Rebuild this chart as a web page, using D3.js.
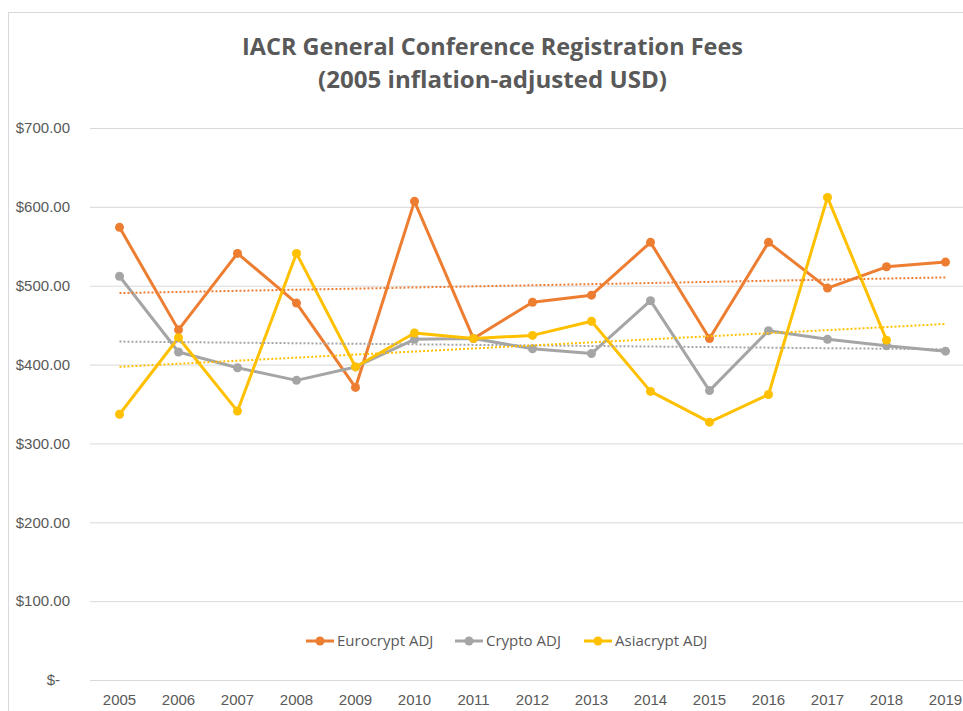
<!DOCTYPE html>
<html>
<head>
<meta charset="utf-8">
<script src="https://cdn.jsdelivr.net/npm/d3@7"></script>
<style>
  body { margin: 0; background: #fff; }
  svg { display: block; font-family: 'Open Sans', 'Liberation Sans', sans-serif; }
</style>
</head>
<body>
<svg id="chart" width="963" height="711"></svg>
<script>
// chart data
var years = ['2005','2006','2007','2008','2009','2010','2011','2012','2013','2014','2015','2016','2017','2018','2019'];
var eurocryptFees = [574, 444, 541, 478, 371, 607, 433, 479, 488, 555, 433, 555, 497, 524, 530];
var cryptoFees    = [512, 416, 396, 380, 397, 432, 433, 420, 414, 481, 367, 443, 432, 424, 417];
var asiacryptFees = [337, 434, 341, 541, 397, 440, 433, 437, 455, 366, 327, 362, 612, 431, null];
var seriesNames = ['Eurocrypt ADJ', 'Crypto ADJ', 'Asiacrypt ADJ'];
var yTicks = [0, 100, 200, 300, 400, 500, 600, 700];

var colors = ['#ED7D31', '#A5A5A5', '#FFC000'];
var textColor = '#595959';

var svg = d3.select('#chart');

// outer chart frame (runs off the right and bottom)
svg.append('rect')
  .attr('x', 8.5).attr('y', 12.5)
  .attr('width', 1000).attr('height', 800)
  .style('fill', 'none')
  .style('stroke', '#D9D9D9');

var xScale = d3.scaleBand()
  .domain(years)
  .range([90, 975]);
var yScale = d3.scaleLinear()
  .domain([0, 700])
  .range([680, 128]);

function cx(year) { return xScale(year) + xScale.bandwidth() / 2; }

// title
var titleLines = ['IACR General Conference Registration Fees', '(2005 inflation-adjusted USD)'];
var titleWidths = [501, 349];
var titleY = [55, 88];
titleLines.forEach(function(t, i) {
  svg.append('text')
    .attr('x', 492.5)
    .attr('y', titleY[i])
    .attr('text-anchor', 'middle')
    .attr('textLength', titleWidths[i])
    .attr('lengthAdjust', 'spacingAndGlyphs')
    .style('font-size', '23px')
    .style('font-weight', 'bold')
    .style('fill', textColor)
    .text(t);
});

// y grid + labels
var yAxis = svg.append('g')
  .attr('transform', 'translate(90,0)')
  .call(d3.axisLeft(yScale)
    .tickValues(yTicks)
    .tickSize(-900)
    .tickPadding(20)
    .tickFormat(d => d == 0 ? '$-' : '$' + d3.format(',.2f')(d)));
yAxis.select('.domain').remove();
yAxis.selectAll('line').style('stroke', '#D9D9D9').style('stroke-width', 1);
yAxis.selectAll('text')
  .style('font-size', '15px')
  .style('fill', textColor)
  .attr('dx', d => d == 0 ? -10 : 0);

// x labels
var xAxis = svg.append('g')
  .attr('transform', 'translate(0,680)')
  .call(d3.axisBottom(xScale).tickSize(0).tickPadding(14));
xAxis.select('.domain').remove();
xAxis.selectAll('text')
  .style('font-size', '15px')
  .style('fill', textColor);

var allSeries = [eurocryptFees, cryptoFees, asiacryptFees];

// linear trendlines (least squares over the points present)
function trend(values) {
  var pts = [];
  values.forEach((v, i) => { if (v != null) pts.push([i, v]); });
  var mx = d3.mean(pts, p => p[0]);
  var my = d3.mean(pts, p => p[1]);
  var num = d3.sum(pts, p => (p[0] - mx) * (p[1] - my));
  var den = d3.sum(pts, p => (p[0] - mx) * (p[0] - mx));
  var slope = num / den;
  return function(i) { return my + slope * (i - mx); };
}

var line = d3.line()
  .defined(d => d.v != null)
  .x(d => cx(d.year))
  .y(d => yScale(d.v));

allSeries.forEach(function(values, s) {
  var data = years.map((y, i) => ({ year: y, v: values[i] }));
  svg.append('path')
    .datum(data)
    .style('fill', 'none')
    .style('stroke', colors[s])
    .style('stroke-width', 3)
    .style('stroke-linejoin', 'round')
    .attr('d', line);
  svg.append('g').selectAll('circle')
    .data(data.filter(d => d.v != null))
    .enter()
    .append('circle')
    .attr('cx', d => cx(d.year))
    .attr('cy', d => yScale(d.v))
    .attr('r', 4.5)
    .style('fill', colors[s]);
});

allSeries.forEach(function(values, s) {
  var f = trend(values);
  var last = years.length - 1;
  svg.append('line')
    .attr('x1', cx(years[0]))
    .attr('y1', yScale(f(0)))
    .attr('x2', cx(years[last]))
    .attr('y2', yScale(f(last)))
    .style('stroke', colors[s])
    .style('stroke-width', 2)
    .style('stroke-dasharray', '2,2');
});

// legend
var legendX = [306, 455, 584];
var legend = svg.append('g');
seriesNames.forEach(function(name, s) {
  var g = legend.append('g').attr('transform', 'translate(' + legendX[s] + ',641)');
  g.append('line')
    .attr('x1', 0).attr('x2', 28)
    .style('stroke', colors[s])
    .style('stroke-width', 3);
  g.append('circle')
    .attr('cx', 14).attr('r', 4.5)
    .style('fill', colors[s]);
  g.append('text')
    .attr('x', 31)
    .attr('dy', '0.35em')
    .style('font-size', '15px')
    .style('fill', textColor)
    .text(name);
});
</script>
</body>
</html>
